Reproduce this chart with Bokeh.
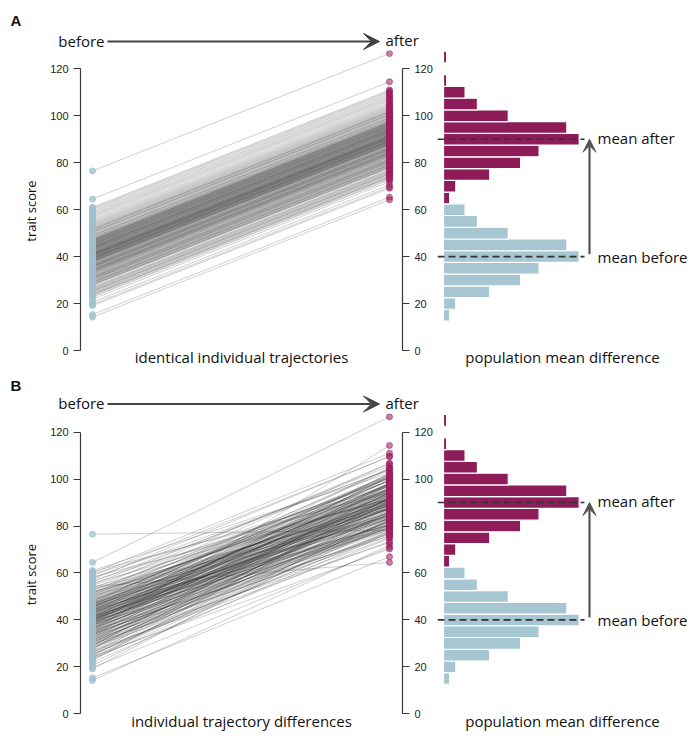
from bokeh.plotting import figure
from bokeh.models import Range1d, LinearAxis, FixedTicker, ColumnDataSource, Label, Arrow, VeeHead
from bokeh.layouts import row, column
from bokeh.embed import file_html
from bokeh.resources import INLINE

# ---------------- data ----------------
# trait score before, by histogram bin
b15 = [14.2, 15.3]
b20 = [19.1, 19.7, 20.6, 21.9]
b25 = [22.7, 23.1, 23.6, 24.0, 24.4, 24.7, 25.1, 25.5, 25.8, 26.2, 26.4, 26.8, 27.0, 23.8, 25.3]
b30 = [27.6, 27.9, 28.2, 28.4, 28.7, 28.9, 29.2, 29.4, 29.6, 29.9, 30.1, 30.3, 30.6, 30.8, 31.0,
       31.3, 31.5, 31.7, 31.9, 32.2, 32.4, 28.0, 29.0, 30.4, 31.2]
b35 = [32.6, 32.8, 33.0, 33.2, 33.4, 33.6, 33.8, 34.0, 34.2, 34.4, 34.6, 34.8, 35.0, 35.2, 35.4, 35.6,
       35.8, 36.0, 36.2, 36.4, 36.6, 36.8, 37.0, 37.2, 37.4, 33.5, 34.5, 35.5, 36.5, 34.1, 35.9]
b40 = [37.6, 37.7, 37.9, 38.0, 38.2, 38.3, 38.5, 38.6, 38.8, 38.9, 39.1, 39.2, 39.4, 39.5, 39.7, 39.8,
       40.0, 40.1, 40.3, 40.4, 40.6, 40.7, 40.9, 41.0, 41.2, 41.3, 41.5, 41.6, 41.8, 41.9, 42.1, 42.2,
       42.4, 37.8, 38.4, 39.0, 39.6, 40.2, 40.8, 41.4, 42.0, 39.3, 40.5, 41.1]
b45 = [42.6, 42.7, 42.9, 43.0, 43.2, 43.3, 43.5, 43.7, 43.8, 44.0, 44.1, 44.3, 44.5, 44.6, 44.8, 45.0,
       45.1, 45.3, 45.5, 45.6, 45.8, 46.0, 46.1, 46.3, 46.5, 46.7, 46.8, 47.0, 47.2, 47.4, 43.4, 44.2,
       44.9, 45.4, 45.9, 46.4, 46.9, 42.8, 43.9, 47.3]
b50 = [47.6, 47.9, 48.2, 48.5, 48.8, 49.1, 49.4, 49.7, 50.0, 50.3, 50.6, 50.9, 51.2, 51.5, 51.8, 52.1,
       52.4, 48.0, 49.0, 50.5, 51.6]
b55 = [52.7, 53.1, 53.4, 53.8, 54.2, 54.6, 55.1, 55.6, 56.2, 56.8, 57.3]
b60 = [57.8, 58.3, 58.9, 59.4, 60.0, 60.5, 61.0]
b_out = [64.5, 76.5]

# panel A: trait score after (identical trajectories)
a15_a = [64.2, 65.3]
a20_a = [69.1, 69.7, 70.6, 71.9]
a25_a = [72.7, 73.1, 73.6, 74.0, 74.4, 74.7, 75.1, 75.5, 75.8, 76.2, 76.4, 76.8, 77.0, 73.8, 75.3]
a30_a = [77.6, 77.9, 78.2, 78.4, 78.7, 78.9, 79.2, 79.4, 79.6, 79.9, 80.1, 80.3, 80.6, 80.8, 81.0,
         81.3, 81.5, 81.7, 81.9, 82.2, 82.4, 78.0, 79.0, 80.4, 81.2]
a35_a = [82.6, 82.8, 83.0, 83.2, 83.4, 83.6, 83.8, 84.0, 84.2, 84.4, 84.6, 84.8, 85.0, 85.2, 85.4, 85.6,
         85.8, 86.0, 86.2, 86.4, 86.6, 86.8, 87.0, 87.2, 87.4, 83.5, 84.5, 85.5, 86.5, 84.1, 85.9]
a40_a = [87.6, 87.7, 87.9, 88.0, 88.2, 88.3, 88.5, 88.6, 88.8, 88.9, 89.1, 89.2, 89.4, 89.5, 89.7, 89.8,
         90.0, 90.1, 90.3, 90.4, 90.6, 90.7, 90.9, 91.0, 91.2, 91.3, 91.5, 91.6, 91.8, 91.9, 92.1, 92.2,
         92.4, 87.8, 88.4, 89.0, 89.6, 90.2, 90.8, 91.4, 92.0, 89.3, 90.5, 91.1]
a45_a = [92.6, 92.7, 92.9, 93.0, 93.2, 93.3, 93.5, 93.7, 93.8, 94.0, 94.1, 94.3, 94.5, 94.6, 94.8, 95.0,
         95.1, 95.3, 95.5, 95.6, 95.8, 96.0, 96.1, 96.3, 96.5, 96.7, 96.8, 97.0, 97.2, 97.4, 93.4, 94.2,
         94.9, 95.4, 95.9, 96.4, 96.9, 92.8, 93.9, 97.3]
a50_a = [97.6, 97.9, 98.2, 98.5, 98.8, 99.1, 99.4, 99.7, 100.0, 100.3, 100.6, 100.9, 101.2, 101.5, 101.8,
         102.1, 102.4, 98.0, 99.0, 100.5, 101.6]
a55_a = [102.7, 103.1, 103.4, 103.8, 104.2, 104.6, 105.1, 105.6, 106.2, 106.8, 107.3]
a60_a = [107.8, 108.3, 108.9, 109.4, 110.0, 110.5, 111.0]
a_out_a = [114.5, 126.5]

# panel B: trait score after (individual trajectory differences)
a15_b = [71.8, 66.9]
a20_b = [85.5, 70.9, 82.3, 77.0]
a25_b = [92.4, 80.6, 74.8, 86.0, 70.2, 90.4, 82.6, 79.8, 91.9, 77.1, 86.2, 73.4, 88.5, 82.9, 77.7]
a30_b = [90.8, 90.0, 75.1, 86.2, 80.4, 95.5, 83.6, 77.7, 88.8, 73.0, 93.1, 85.2, 82.3, 94.4, 79.5,
         88.7, 75.8, 90.9, 87.0, 81.1, 93.2, 82.0, 97.5, 77.2, 87.6]
a35_b = [80.3, 89.4, 76.5, 91.6, 87.7, 81.8, 93.9, 93.0, 78.1, 89.2, 83.3, 98.4, 86.5, 80.6, 91.7, 75.8,
         95.9, 88.0, 85.1, 97.2, 82.3, 91.4, 78.5, 93.6, 89.7, 81.8, 94.3, 114.3, 101.3, 79.1, 90.0]
a40_b = [97.8, 82.9, 92.0, 79.0, 94.1, 90.2, 84.3, 96.3, 87.4, 102.5, 81.6, 91.6, 95.7, 80.8, 91.9, 85.9,
         100.9, 89.1, 83.2, 94.4, 78.3, 98.4, 90.5, 87.5, 99.6, 84.7, 93.8, 80.8, 95.9, 92.0, 86.1, 98.1,
         97.2, 79.9, 91.2, 85.5, 100.8, 89.1, 83.4, 94.7, 79.0, 97.7, 90.3, 87.6]
a45_b = [96.3, 84.4, 92.5, 80.5, 99.6, 88.7, 95.8, 83.9, 101.9, 90.0, 98.1, 79.2, 95.3, 87.3, 99.4, 91.5,
         104.6, 83.7, 94.8, 88.8, 101.9, 87.0, 94.1, 83.2, 97.3, 93.4, 85.4, 99.5, 90.6, 104.7, 84.7, 95.1,
         80.5, 97.7, 91.0, 101.2, 89.5, 93.4, 83.0, 100.7]
a50_b = [87.8, 102.0, 92.1, 99.3, 84.4, 97.6, 103.7, 90.9, 96.0, 87.2, 101.3, 94.5, 106.6, 88.8, 97.9,
         84.1, 100.2, 101.0, 89.5, 95.3, 92.8]
a55_b = [100.4, 87.6, 106.7, 91.9, 64.5, 99.3, 105.6, 91.8, 104.1, 95.4, 109.7]
a60_b = [103.9, 91.2, 109.5, 96.7, 111.0, 94.3, 102.5]
a_out_b = [126.5, 78.2]

# histograms (bin centre, count)
hist_before_bins = [15, 20, 25, 30, 35, 40, 45, 50, 55, 60]
hist_before_counts = [2, 4, 15, 25, 31, 44, 40, 21, 11, 7]
hist_after_bins = [65, 70, 75, 80, 85, 90, 95, 100, 105, 110, 115, 125]
hist_after_counts = [2, 4, 15, 25, 31, 44, 40, 21, 11, 7, 1, 1]
bin_width = 5

mean_before = 40
mean_after = 90

y_ticks = [0, 20, 40, 60, 80, 100, 120]

before = b15 + b20 + b25 + b30 + b35 + b40 + b45 + b50 + b55 + b60 + b_out
after_a = a15_a + a20_a + a25_a + a30_a + a35_a + a40_a + a45_a + a50_a + a55_a + a60_a + a_out_a
after_b = a15_b + a20_b + a25_b + a30_b + a35_b + a40_b + a45_b + a50_b + a55_b + a60_b + a_out_b

# ---------------- styling / layout ----------------
BLUE = "#a6c6d2"
MAG = "#8e1c58"
DOT_BLUE = "#9fc0cc"
DOT_MAG = "#9c205e"
AX = "#3a3a3a"
TXT = "#111111"
HUM = "Open Sans"
TICKF = "Liberation Sans"

S = 2.3475          # px per trait-score unit
X_BEFORE, X_AFTER = 0, 1
W_LEFT, W_RIGHT = 437, 255


def xl(px):          # page px -> left-figure x
    return (px - 92) / 297.0


def xr(px):          # page px -> histogram x (count)
    return (px - 443) / 3.084


def bare(p):
    p.outline_line_color = None
    p.grid.visible = False
    return p


def style_axis(ax):
    ax.ticker = FixedTicker(ticks=y_ticks)
    ax.bounds = (0, 120)
    ax.axis_line_color = AX
    ax.axis_line_width = 1.2
    ax.major_tick_line_color = AX
    ax.major_tick_line_width = 1.2
    ax.major_tick_out = 7
    ax.major_tick_in = 0
    ax.minor_tick_line_color = None
    ax.major_label_text_font = TICKF
    ax.major_label_text_font_size = "11px"
    ax.major_label_text_color = "#222222"
    ax.major_label_standoff = 5


def make_panel(letter, after, caption, strip_h, main_h, y0, y_letter, y_before, y_after):
    # top strip: panel letter and the before -> after arrow
    st = bare(figure(width=W_LEFT + W_RIGHT, height=strip_h, x_range=Range1d(0, W_LEFT + W_RIGHT),
                     y_range=Range1d(strip_h, 0), output_backend="svg", toolbar_location=None,
                     title=None, min_border=0, x_axis_location=None, y_axis_location=None))
    st.add_layout(Label(x=10, y=y_letter, text=letter, text_align="left", text_baseline="middle",
                        text_font=TICKF, text_font_size="15px", text_font_style="bold",
                        text_color=TXT))
    st.add_layout(Label(x=104, y=y_before, text="before", text_align="right", text_baseline="middle",
                        text_font=HUM, text_font_size="15px", text_color=TXT))
    st.add_layout(Arrow(end=VeeHead(size=16, fill_color="#444444", line_color="#444444"),
                        x_start=107, y_start=y_before + 1, x_end=379, y_end=y_before + 1,
                        line_color="#444444", line_width=2.2))
    st.add_layout(Label(x=385, y=y_after, text="after", text_align="left", text_baseline="middle",
                        text_font=HUM, text_font_size="15px", text_color=TXT))

    yr = Range1d(-(main_h - y0) / S, y0 / S)
    pl = bare(figure(width=W_LEFT, height=main_h, x_range=Range1d(xl(80), xl(402)), y_range=yr,
                     output_backend="svg", toolbar_location=None, title=None,
                     min_border_left=80, min_border_right=35, min_border_top=0, min_border_bottom=0,
                     x_axis_location=None, y_axis_location=None))

    left = LinearAxis(axis_label="trait score")
    style_axis(left)
    left.axis_label_text_font = HUM
    left.axis_label_text_font_size = "13px"
    left.axis_label_text_font_style = "normal"
    left.axis_label_text_color = TXT
    left.axis_label_standoff = 7
    pl.add_layout(left, "left")
    right = LinearAxis()
    style_axis(right)
    pl.add_layout(right, "right")

    src = ColumnDataSource(dict(x0=[X_BEFORE] * len(before), x1=[X_AFTER] * len(after),
                                y0=before, y1=after))
    pl.segment(x0="x0", y0="y0", x1="x1", y1="y1", source=src,
               line_color="#2a2a2a", line_alpha=0.27, line_width=0.85)
    pl.scatter(x="x0", y="y0", source=src, size=6, fill_color=DOT_BLUE, fill_alpha=0.75,
               line_color=DOT_BLUE, line_alpha=0.8)
    pl.scatter(x="x1", y="y1", source=src, size=6, fill_color=DOT_MAG, fill_alpha=0.55,
               line_color=DOT_MAG, line_alpha=0.6)
    pl.add_layout(Label(x=xl(241), y=-2.9, text=caption, text_align="center", text_baseline="middle",
                        text_font=HUM, text_font_size="15px", text_color=TXT))

    # histogram figure
    pr = bare(figure(width=W_RIGHT, height=main_h, x_range=Range1d(xr(437), xr(437 + W_RIGHT)),
                     y_range=yr, output_backend="svg", toolbar_location=None, title=None,
                     min_border=0, x_axis_location=None, y_axis_location=None))
    pr.hbar(y=hist_before_bins, right=hist_before_counts, left=0, height=bin_width,
            fill_color=BLUE, line_color="white", line_width=1.2)
    pr.hbar(y=hist_after_bins, right=hist_after_counts, left=0, height=bin_width,
            fill_color=MAG, line_color="white", line_width=1.2)
    for m in (mean_before, mean_after):
        pr.segment(x0=[xr(437)], y0=[m], x1=[xr(584)], y1=[m], line_color="#333333",
                   line_width=1.6, line_dash="7 4")
    pr.add_layout(Arrow(end=VeeHead(size=13, fill_color="#555555", line_color="#555555"),
                        x_start=xr(589), y_start=mean_before + 1, x_end=xr(589), y_end=mean_after,
                        line_color="#555555", line_width=2.2))
    pr.add_layout(Label(x=xr(597), y=mean_after + 0.6, text="mean after", text_align="left",
                        text_baseline="middle", text_font=HUM, text_font_size="15px",
                        text_color=TXT))
    pr.add_layout(Label(x=xr(597), y=mean_before, text="mean before", text_align="left",
                        text_baseline="middle", text_font=HUM, text_font_size="15px",
                        text_color=TXT))
    pr.add_layout(Label(x=xr(562), y=-2.9, text="population mean difference", text_align="center",
                        text_baseline="middle", text_font=HUM, text_font_size="15px",
                        text_color=TXT))
    return column(st, row(pl, pr, spacing=0), spacing=0)


panel_a = make_panel("A", after_a, "identical individual trajectories",
                     strip_h=50, main_h=321, y0=300, y_letter=20, y_before=40, y_after=39.5)
panel_b = make_panel("B", after_b, "individual trajectory differences",
                     strip_h=42, main_h=322, y0=300.3, y_letter=14, y_before=31.5, y_after=31)
layout = column(panel_a, panel_b, spacing=0)

open("out.html", "w").write(file_html(layout, INLINE))
